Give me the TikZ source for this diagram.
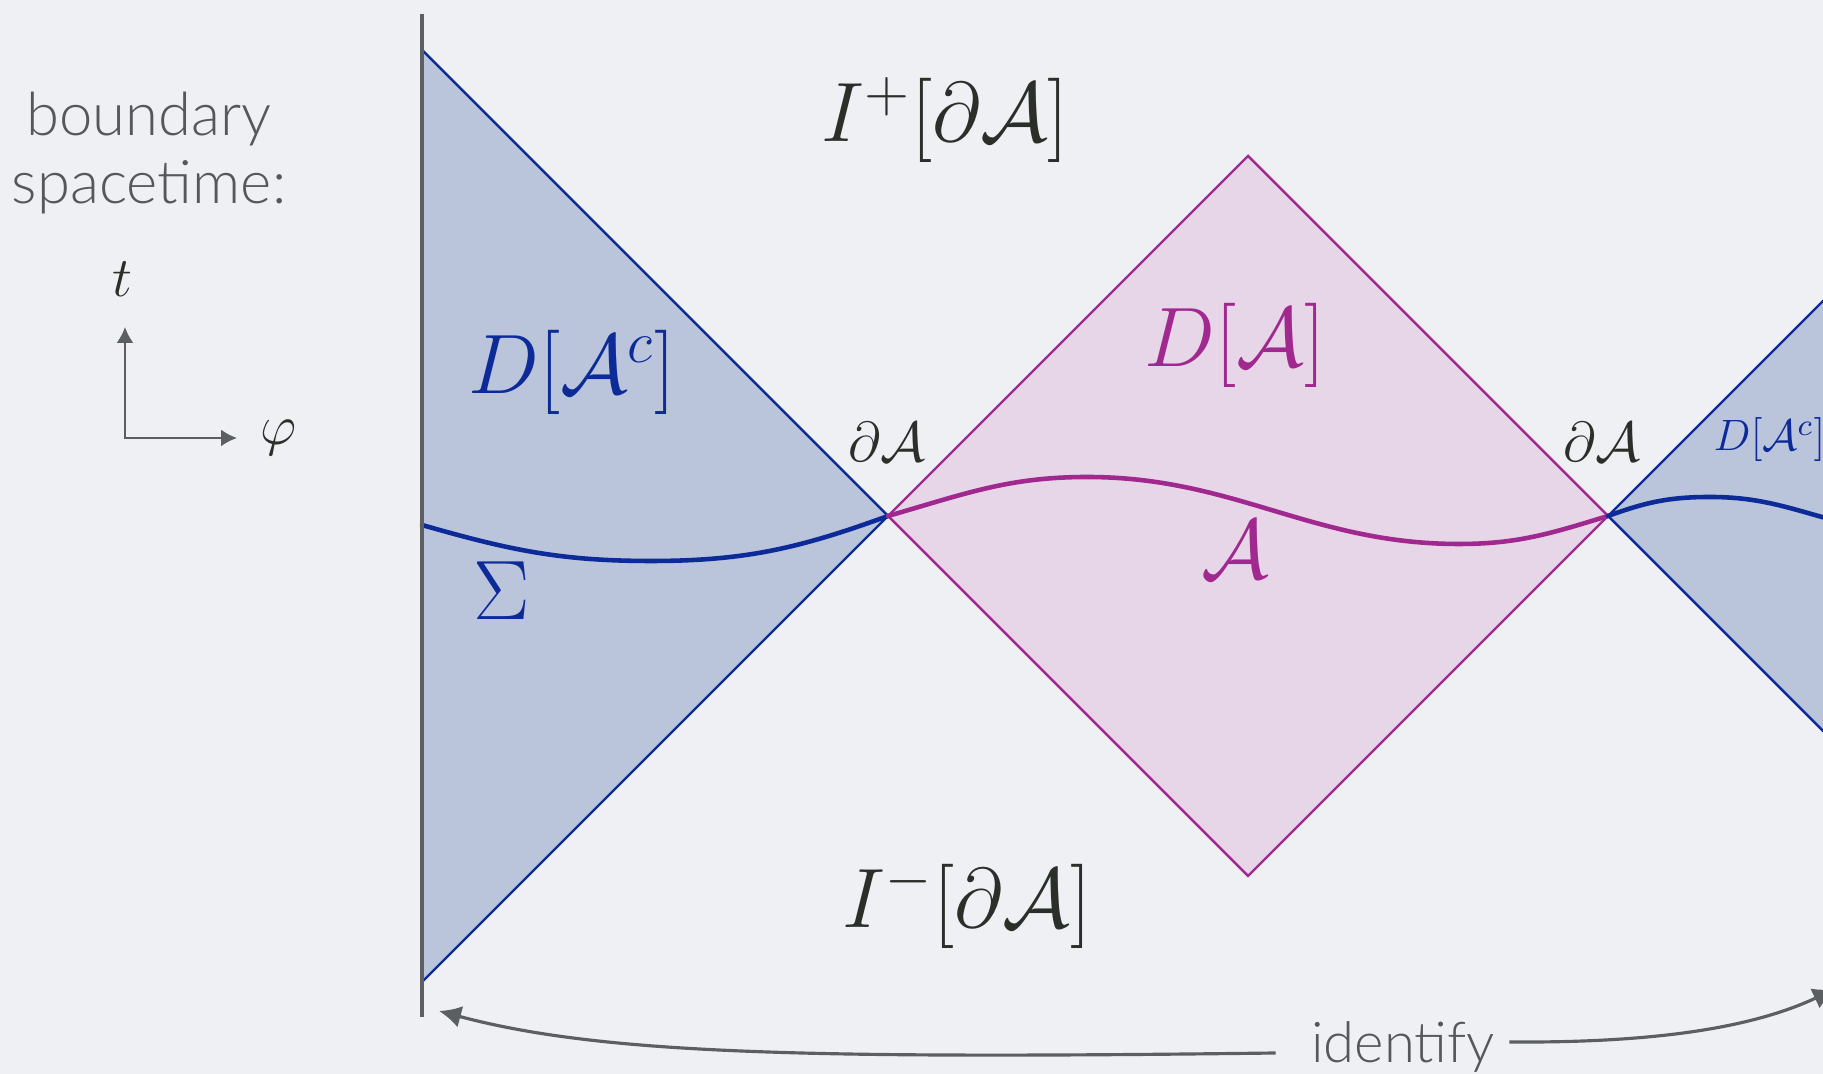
\RequirePackage{fix-cm}
\documentclass[tikz,border=0pt]{standalone}
\usepackage{fontspec}
\newfontfamily\gillfont{Lato Light}
\usepackage{tikz}
\usetikzlibrary{positioning,arrows.meta,calc}
\definecolor{slide}{HTML}{EEF0F4}
\definecolor{conefill}{HTML}{BAC4DB}
\definecolor{coneblue}{HTML}{0C2A98}
\definecolor{diamondfill}{HTML}{E7D6E7}
\definecolor{diamondpink}{HTML}{A0288E}
\definecolor{inkdark}{HTML}{2B2F2A}
\definecolor{axisgray}{HTML}{5C5F61}
\definecolor{textgray}{HTML}{55585B}
\tikzset{
    bigmath/.style={font=\fontsize{24}{28}\selectfont, inner sep=0pt},
    edgemath/.style={font=\fontsize{16}{19}\selectfont, inner sep=0pt},
    tinymath/.style={font=\fontsize{12.5}{15}\selectfont, inner sep=0pt},
    conefilled/.style={fill=conefill},
    coneedge/.style={draw=coneblue, line width=0.7pt},
    diamondregion/.style={fill=diamondfill, draw=diamondpink, line width=0.7pt},
    slicecurve/.style={line width=1.3pt, line cap=round},
    boundary/.style={draw=axisgray, line width=1.2pt},
    axisarrow/.style={{Latex[length=1.6mm, width=1.7mm]}-{Latex[length=1.6mm, width=1.7mm]}, draw=axisgray, line width=0.6pt},
    identarrow/.style={-{Latex[length=2.2mm, width=2.2mm]}, draw=axisgray, line width=0.9pt},
    labeltext/.style={font=\gillfont\fontsize{17}{19.4}\selectfont, text=textgray, align=center, inner sep=0pt},
}
\begin{document}
\begin{tikzpicture}
    \clip (0,0) rectangle (18.23,10.74);
    \fill[slide] (0,0) rectangle (18.23,10.74);
    % corners of the cones and of the diamond
    \coordinate (leftedge) at (8.88,5.58);
    \coordinate (rightedge) at (16.08,5.58);
    \coordinate (conetop) at ($(leftedge)+(-4.66,4.66)$);
    \coordinate (conebot) at ($(leftedge)+(-4.66,-4.66)$);
    \coordinate (diamondtop) at (12.48,9.18);
    \coordinate (diamondbot) at (12.48,1.98);
    \coordinate (wraptop) at ($(rightedge)+(3,3)$);
    \coordinate (wrapbot) at ($(rightedge)+(3,-3)$);
    \coordinate (bdytop) at (4.22,10.60);
    \coordinate (bdybot) at (4.22,0.57);
    \fill[conefilled] (conetop) -- (leftedge) -- (conebot) -- cycle;
    \fill[conefilled] (wraptop) -- (rightedge) -- (wrapbot) -- cycle;
    \draw[coneedge] (conetop) -- (leftedge) -- (conebot);
    \draw[coneedge] (wraptop) -- (rightedge) -- (wrapbot);
    \filldraw[diamondregion] (leftedge) -- (diamondtop) -- (rightedge) -- (diamondbot) -- cycle;
    % slices
    \draw[slicecurve, coneblue] (4.22,5.49) to[out=-16, in=180] (6.51,5.13) to[out=0, in=200] (leftedge);
    \draw[slicecurve, diamondpink] (leftedge) to[out=16, in=180] (10.87,5.97) to[out=0, in=180] (14.59,5.30) to[out=0, in=197] (rightedge);
    \draw[slicecurve, coneblue] (rightedge) to[out=20, in=180] (17.10,5.77) to[out=0, in=165] (18.4,5.52);
    \draw[boundary] (bdytop) -- (bdybot);
    % labels
    \node[bigmath, text=inkdark] (futurelabel) at (9.45,9.54) {$I^+[\partial\mathcal{A}]$};
    \node[bigmath, text=inkdark] (pastlabel) at (9.67,1.69) {$I^-[\partial\mathcal{A}]$};
    \node[bigmath, text=coneblue] (complabel) at (5.72,7.02) {$D[\mathcal{A}^c]$};
    \node[bigmath, text=diamondpink] (domlabel) at (12.35,7.29) {$D[\mathcal{A}]$};
    \node[bigmath, text=diamondpink] (regionlabel) at (12.35,5.24) {$\mathcal{A}$};
    \node[bigmath, text=coneblue] (slicelabel) at (5.02,4.83) {$\Sigma$};
    \node[edgemath, text=inkdark] (leftbdy) at (8.87,6.32) {$\partial\mathcal{A}$};
    \node[edgemath, text=inkdark] (rightbdy) at (16.02,6.32) {$\partial\mathcal{A}$};
    \node[tinymath, text=coneblue, anchor=west] (wraplabel) at (17.13,6.34) {$D[\mathcal{A}^c]$};
    % boundary spacetime axes
    \node[labeltext] (bdytitle) at (1.49,9.21) {boundary\\spacetime:};
    \coordinate (axisorigin) at (1.25,6.36);
    \coordinate (tipup) at (1.25,7.47);
    \coordinate (tipright) at (2.37,6.36);
    \draw[axisarrow] (tipup) -- (axisorigin) -- (tipright);
    \node[edgemath, text=inkdark, above=0.3 of tipup, xshift=-0.03cm] (tlabel) {$t$};
    \node[edgemath, text=inkdark, right=0.23 of tipright] (philabel) {$\varphi$};
    % identification of the ends
    \node[labeltext, font=\gillfont\fontsize{16}{18}\selectfont] (identify) at (14.03,0.27) {identify};
    \coordinate (leftend) at (4.39,0.63);
    \coordinate (rightend) at (18.35,0.85);
    \draw[identarrow] ([xshift=-3.5mm, yshift=-0.6mm]identify.west) .. controls (8.0,0.15) and (6.0,0.20) .. (leftend);
    \draw[identarrow] ([xshift=1.4mm, yshift=0.5mm]identify.east) .. controls (16.5,0.31) and (17.5,0.45) .. (rightend);
\end{tikzpicture}
\end{document}
